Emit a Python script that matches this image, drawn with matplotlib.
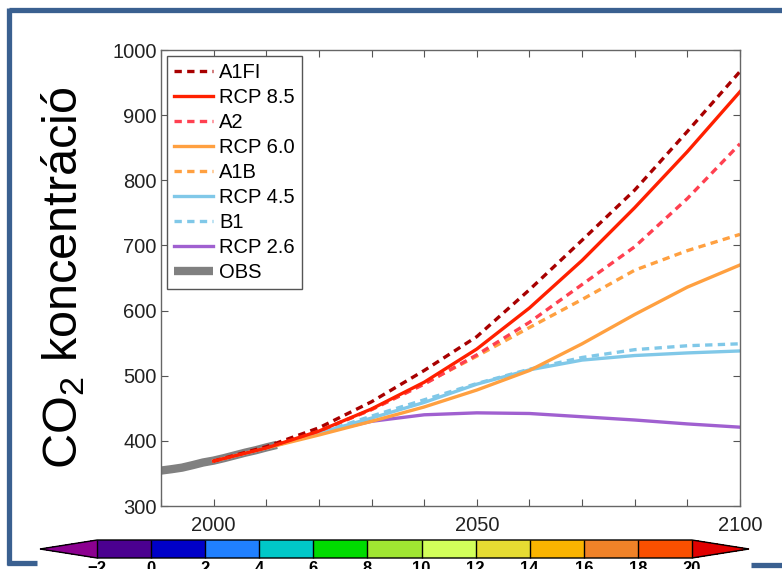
import numpy as np
import matplotlib
matplotlib.use("Agg")
import matplotlib.pyplot as plt
import matplotlib.colors as mcolors
from matplotlib.lines import Line2D

plt.rcParams['font.family'] = ['Liberation Sans', 'DejaVu Sans']
plt.rcParams['mathtext.default'] = 'regular'

# --- data (ppm) ---
years = [2000, 2010, 2020, 2030, 2040, 2050, 2060, 2070, 2080, 2090, 2100]
a1fi = [369, 391, 420, 460, 508, 560, 632, 708, 785, 875, 967]
rcp85 = [369, 389, 415, 449, 490, 541, 604, 677, 758, 844, 936]
a2 = [369, 390, 415, 448, 487, 532, 582, 640, 698, 772, 856]
rcp60 = [369, 389, 409, 430, 452, 478, 508, 549, 594, 636, 670]
a1b = [369, 390, 415, 448, 488, 530, 574, 617, 662, 692, 717]
rcp45 = [369, 389, 412, 435, 459, 487, 509, 524, 531, 535, 538]
b1 = [369, 389, 412, 438, 463, 488, 510, 528, 540, 546, 549]
rcp26 = [369, 389, 412, 430, 440, 443, 442, 437, 432, 426, 421]

obs_years = [1990, 1992, 1994, 1996, 1998, 2000, 2002, 2004, 2006, 2008, 2010, 2012]
obs = [354.4, 356.5, 358.9, 362.7, 366.8, 369.7, 373.5, 377.7, 381.9, 385.6, 389.9, 393.8]

cbar_bounds = [-2, 0, 2, 4, 6, 8, 10, 12, 14, 16, 18, 20]
cbar_colors = ['#4b0090', '#0000c8', '#2080ff', '#00c8c8', '#00dc00', '#a0e632',
               '#d2ff5a', '#e6dc32', '#fab400', '#f08228', '#fa5000']
cbar_under = '#8c0090'
cbar_over = '#e10000'

fig = plt.figure(figsize=(7.82, 5.69), dpi=100)

# slide frame
frame_col = '#3a6090'
fig.add_artist(Line2D([9 / 782, 1.0], [1 - 10 / 569, 1 - 10 / 569], color=frame_col, lw=3.8,
                      transform=fig.transFigure, solid_capstyle='butt'))
fig.add_artist(Line2D([9 / 782, 9 / 782], [1 - 8 / 569, 1 - 565 / 569], color=frame_col, lw=3.8,
                      transform=fig.transFigure, solid_capstyle='butt'))
fig.add_artist(Line2D([7 / 782, 37 / 782], [1 - 563 / 569, 1 - 563 / 569], color=frame_col, lw=3.8,
                      transform=fig.transFigure, solid_capstyle='butt'))
fig.add_artist(Line2D([751 / 782, 1.0], [1 - 565 / 569, 1 - 565 / 569], color=frame_col, lw=3.8,
                      transform=fig.transFigure, solid_capstyle='butt'))

ax = fig.add_axes([161 / 782, 1 - 506 / 569, 579 / 782, 456 / 569])

dash = (0, (2.2, 1.6))
lw = 2.4
ax.plot(obs_years, obs, color='#808080', lw=6, solid_capstyle='butt', label='OBS')
ax.plot(years, rcp26, color='#a060d0', lw=lw, label='RCP 2.6')
ax.plot(years, b1, color='#80c8e8', lw=lw, ls=dash, label='B1')
ax.plot(years, rcp45, color='#80c8e8', lw=lw, label='RCP 4.5')
ax.plot(years, a1b, color='#ffa040', lw=lw, ls=dash, label='A1B')
ax.plot(years, rcp60, color='#ffa040', lw=lw, label='RCP 6.0')
ax.plot(years, a2, color='#ff4050', lw=lw, ls=dash, label='A2')
ax.plot(years, a1fi, color='#a80000', lw=lw, ls=dash, label='A1FI')
ax.plot(years, rcp85, color='#ff2000', lw=lw, label='RCP 8.5')

ax.set_xlim(1990, 2100)
ax.set_ylim(300, 1000)
ax.set_xticks(np.arange(1990, 2101, 10))
ax.set_xticklabels(['2000' if t == 2000 else '2050' if t == 2050 else '2100' if t == 2100 else ''
                    for t in range(1990, 2101, 10)])
ax.set_yticks(np.arange(300, 1001, 100))
ax.tick_params(direction='in', top=True, right=True, length=5, width=0.8,
               labelsize=14.5, colors='#555555', labelcolor='#222222')
ax.tick_params(axis='x', pad=7)
ax.tick_params(axis='y', pad=3)
for s in ax.spines.values():
    s.set_color('#666666')
    s.set_linewidth(1.0)

ax.set_ylabel('CO$_2$ koncentráció', fontsize=35, labelpad=18)

handles, labels = ax.get_legend_handles_labels()
order = ['A1FI', 'RCP 8.5', 'A2', 'RCP 6.0', 'A1B', 'RCP 4.5', 'B1', 'RCP 2.6', 'OBS']
hmap = dict(zip(labels, handles))
leg = ax.legend([hmap[k] for k in order], order, loc='upper left', fontsize=14.5,
                frameon=True, fancybox=False, edgecolor='#555555', framealpha=1,
                handlelength=1.95, handletextpad=0.3, labelspacing=0.3,
                borderpad=0.35, borderaxespad=0.3)
leg.get_frame().set_linewidth(1.0)

# colorbar
cax = fig.add_axes([40 / 782, 1 - 558 / 569, 709 / 782, 18 / 569])
cmap = mcolors.ListedColormap(cbar_colors)
cmap.set_under(cbar_under)
cmap.set_over(cbar_over)
norm = mcolors.BoundaryNorm(cbar_bounds, cmap.N)
cb = matplotlib.colorbar.ColorbarBase(cax, cmap=cmap, norm=norm, orientation='horizontal',
                                      extend='both', extendfrac=0.096, drawedges=True,
                                      ticks=cbar_bounds)
cb.outline.set_linewidth(1.0)
cb.dividers.set_linewidth(1.0)
cax.tick_params(length=0, pad=2, labelsize=12)
cax.set_xticklabels(['\u2212' + str(-b) if b < 0 else str(b) for b in cbar_bounds],
                    fontweight='bold')

fig.savefig('out.png', dpi=100)
